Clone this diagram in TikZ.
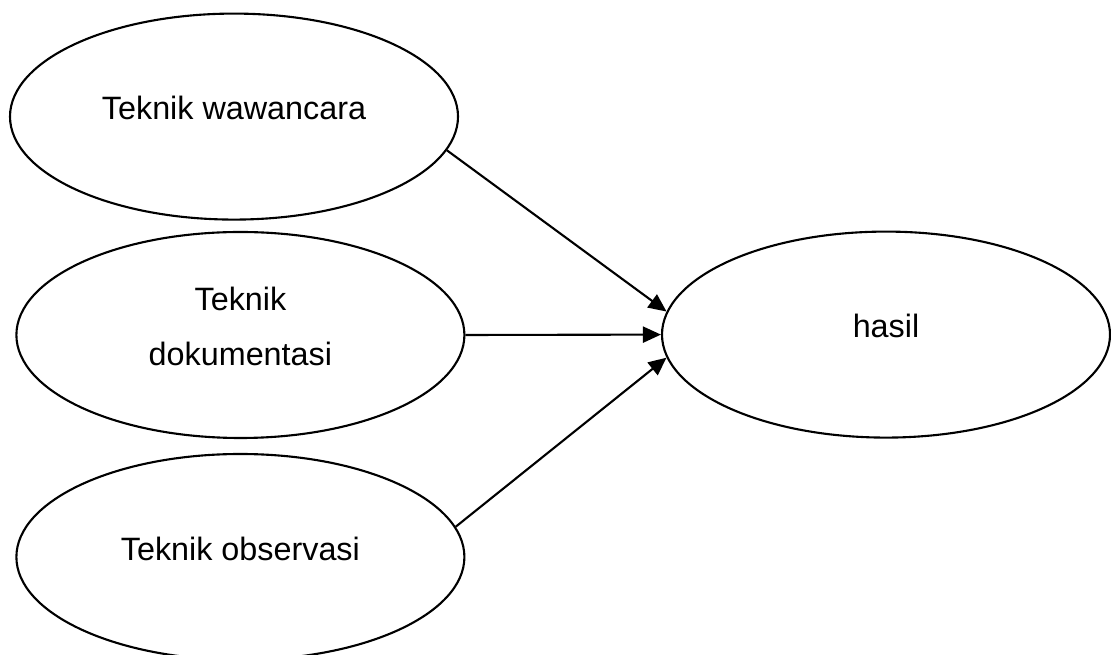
\documentclass[tikz,border=0pt]{standalone}
\usepackage{fontspec}
\setmainfont{Liberation Sans}
\usetikzlibrary{shapes.geometric,arrows.meta,positioning}

\begin{document}
\begin{tikzpicture}[
    % Stili dei nodi
    teknik/.style={
        ellipse, draw, line width=1.5pt,
        minimum width=11.2cm, minimum height=5.15cm,
        text depth=0.42cm, align=center,
        font=\fontsize{23}{39}\selectfont
    },
    arrow/.style={-{Triangle[length=0.45cm,width=0.4cm]}, line width=1.5pt}
]
\useasboundingbox (0,0) rectangle (27.775,16.375);

% Teknik pengumpulan data
\node[teknik] (wawancara) at (5.85,13.46) {Teknik wawancara};
\node[teknik] (dokumentasi) at (6.01,8.0) {Teknik\\dokumentasi};
\node[teknik] (observasi) at (6.01,2.45) {Teknik observasi};

% Hasil
\node[teknik] (hasil) at (22.15,8.01) {hasil};

% Connessioni
\draw[arrow] (wawancara.-9) -- (hasil.174);
\draw[arrow] (dokumentasi.east) -- (hasil.west);
\draw[arrow] (observasi.8) -- (hasil.186);

\end{tikzpicture}
\end{document}
